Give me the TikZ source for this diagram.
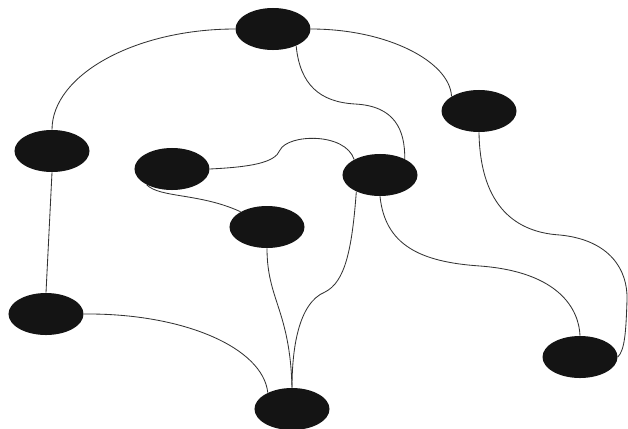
\documentclass[tikz,border=0pt]{standalone}
\usepackage{tikz}
\usetikzlibrary{shapes.geometric}

\begin{document}
\begin{tikzpicture}[
  x=0.025cm, y=-0.025cm,
  vtx/.style={draw=none, ellipse, fill=black!92, inner sep=0pt,
              minimum width=1.875cm, minimum height=1.05cm},
  edg/.style={line width=0.6pt, draw=black!80}
]
\useasboundingbox (0,0) rectangle (628,428);
\node[vtx] (top) at (273,29)  {};
\node[vtx] (rup) at (479,111) {};
\node[vtx] (lft) at (52,151)  {};
\node[vtx] (mlf) at (172,169) {};
\node[vtx] (mrt) at (380,175) {};
\node[vtx] (cen) at (267,227) {};
\node[vtx] (blf) at (46,314)  {};
\node[vtx] (bot) at (292,409) {};
\node[vtx] (brt) at (580,357) {};
\draw[edg] (top.west) .. controls (135,29) and (52,75) .. (lft.north);
\draw[edg] (top.east) .. controls (388,29) and (450,62) .. (rup.152);
\draw[edg] (top.324) .. controls (300,85) and (320,102) .. (355,104)
                     .. controls (395,106) and (405,130) .. (mrt.33);
\draw[edg] (mlf.east) .. controls (250,167) and (275,163) .. (280,150)
                      .. controls (288,134) and (345,132) .. (mrt.149);
\draw[edg] (mlf.212) .. controls (160,198) and (200,193) .. (cen.150);
\draw[edg] (lft.south) -- (blf.north);
\draw[edg] (blf.east) .. controls (184,313) and (263,348) .. (bot.146);
\draw[edg] (cen.south) .. controls (267,300) and (290,310) .. (bot.north);
\draw[edg] (mrt.215) .. controls (352,250) and (345,282) .. (325,292)
                     .. controls (298,303) and (292,350) .. (bot.north);
\draw[edg] (mrt.south) .. controls (385,245) and (420,262) .. (480,266)
                       .. controls (560,272) and (579,310) .. (brt.north);
\draw[edg] (rup.south) .. controls (480,200) and (510,232) .. (560,235)
                       .. controls (610,240) and (628,270) .. (627,300)
                       .. controls (626,330) and (625,350) .. (brt.east);
\end{tikzpicture}
\end{document}
